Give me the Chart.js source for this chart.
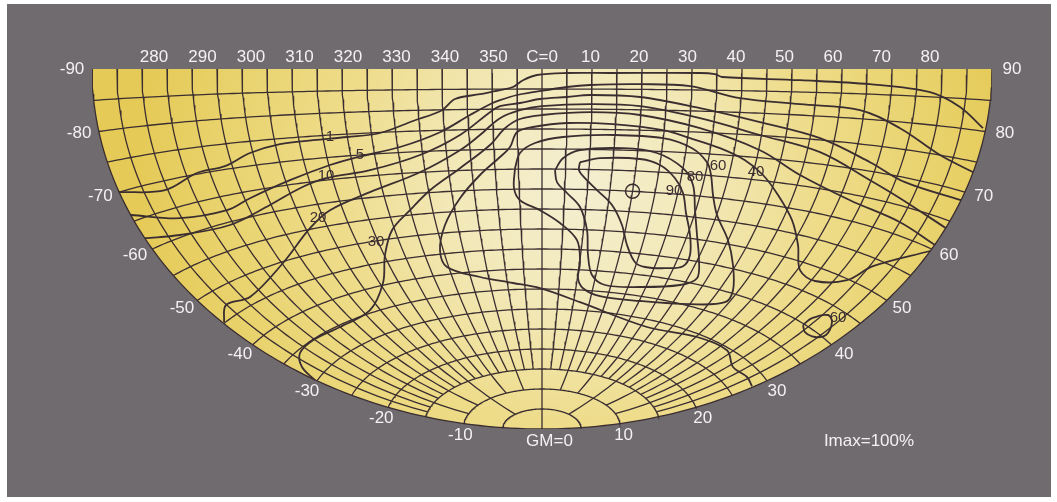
<!DOCTYPE html>
<html lang="en">
<head>
    <meta charset="UTF-8">
    <title>Isocandela diagram</title>
    <script src="https://cdn.jsdelivr.net/npm/chart.js"></script>
    <style>
        body { margin: 0; background: #ffffff; }
        .frame {
            position: absolute;
            left: 7px; top: 4px;
            width: 1044px; height: 493px;
            background: #6f6b6e;
        }
        #iso { position: absolute; left: 0; top: 0; }
    </style>
</head>
<body>
    <div class="frame"></div>
    <canvas id="iso" width="1057" height="502"></canvas>

    <script>
        // tick labels
        const cLabels = [280, 290, 300, 310, 320, 330, 340, 350, 0, 10, 20, 30, 40, 50, 60, 70, 80];
        const gammaLabels = [-90, -80, -70, -60, -50, -40, -30, -20, -10, 0, 10, 20, 30, 40, 50, 60, 70, 80, 90];

        // isolines in % of Imax, as [h, v] in diagram degrees
        // (h: left/right of C=0 along the horizon, v: down from the horizon at C=0)
        const iso1 = [[-84.6,30.8],[-75.4,30.3],[-69,26],[-63.4,24.3],[-58.4,21],[-52.4,18.8],[-45.8,17.8],[-39,17],[-32.4,16],
                      [-25.8,13],[-20,10.3],[-17.4,7.5],[-12.4,6.3],[-8.4,5.3],[-5.8,4.5],[-3.8,2.8],[-1,1.5],[5,1],[13.6,1],
                      [31.6,1],[34.6,1.3],[36,2],[51.6,2.8],[65.6,3.8],[77.6,5.8],[83.6,9.5],[88.2,14.8]];
        const iso5 = [[-82.2,36.5],[-72.4,37.3],[-63,35.3],[-58.4,32.3],[-50.4,27.8],[-42.4,24],[-36.8,22],[-28.4,19.5],
                      [-20.4,15.8],[-14.4,11.5],[-10.4,8.8],[-8.4,7.8],[-5,6.5],[-1.8,5.8],[5,4.5],[9.6,4],[19.6,3.8],
                      [29.6,4.3],[39.6,7.3],[51.6,8.8],[63.6,10.3],[71.6,14.8],[79.6,21.5],[86.2,25.8]];
        const iso10 = [[-79.4,42.3],[-72.4,41.5],[-62.4,39],[-54.4,34],[-48.4,29.8],[-43.2,27.3],[-34.4,25.3],[-24.4,21.5],
                       [-16.4,16.5],[-10.4,10.8],[-8.4,9.3],[-4.4,8.5],[-0.4,7.5],[5,7],[9.6,6.5],[19.6,7],[31.6,9.8],
                       [43.6,13.3],[55.6,17.3],[65.6,23.3],[72.6,28.3],[83.8,32.8]];
        const iso20 = [[-63.6,63.3],[-63.2,59],[-58.4,57],[-51.8,48.5],[-46.4,39.8],[-42.4,35.3],[-34.4,30.8],[-24.4,25.8],
                       [-16.4,20.3],[-12.4,16.5],[-8.4,12.3],[-4.4,10.3],[0,9.3],[9.6,8.8],[19.6,9.3],[31.6,12.3],
                       [43.6,16.5],[55.6,20.8],[65.6,27.8],[71.6,32.3],[80.8,39.8]];
        const iso30 = [[-45.4,77.8],[-48,74.5],[-48.4,71],[-45.8,67.8],[-40.4,64.5],[-34.4,60.3],[-31.8,53.5],[-31.4,46.5],
                       [-30,40.3],[-26.4,35.3],[-22.4,30.3],[-16.4,24.8],[-10.4,19],[-7.4,14.8],[-4.4,12.5],[0,11.5],
                       [9.6,10.8],[19.6,11.5],[31.6,14.8],[43.6,20.3],[51.6,26.5],[61.6,32.8],[71.6,38.3],[78.6,44]];
        const iso40 = [[77.6,45.5],[66.2,49.3],[61,52.8],[54.6,53],[51.6,50.3],[51.2,44],[50,37.8],[47.2,31.5],[44.2,26.5],
                       [40.6,22.8],[35.6,19.8],[29.6,17.3],[24.2,15.3],[14.2,13.8],[5,13.5],[-1.8,14.5],[-5,15.8],[-6.4,19.5],
                       [-8.4,22],[-12.4,26.5],[-16.4,32.3],[-19.4,39],[-20.4,45.3],[-19,49.5],[-12.4,52],[-5.8,53.5],
                       [-0.4,54.8],[7.6,58.3],[21,64.5],[31,67],[37,70.3],[38.2,74.5],[41,77],[42,79.3]];
        const iso60 = [[-5.4,24.8],[-4.4,21],[-1.4,18.5],[4.2,17],[14.2,16.5],[24.2,17.3],[30,19.8],[33,23.3],[33.8,26.5],
                       [34.2,31.5],[35,36.5],[37.2,42.8],[38.2,49],[38.2,55.3],[36.6,58.3],[29.6,58.8],[19.6,58],[11.6,56.8],
                       [8.2,54.8],[7.2,52.3],[7.6,48.3],[7,42.8],[3.6,38.5],[-0.4,35.3],[-4.4,32.8],[-5.6,29.8],[-5.4,24.8]];
        const iso60b = [[52.2,64],[54,62.3],[57.2,61.5],[58,63.3],[56.8,66.5],[54.6,67],[52.6,65.8],[52.2,64]];
        const iso80 = [[2.6,25.3],[4.2,22.3],[7.6,20.3],[16.2,19.8],[23,21],[28.2,24.8],[30.2,29],[30.6,35.3],[31,41.5],
                       [31.4,47.8],[31,52.3],[27.6,54],[19.6,54.5],[12.6,54],[10,51.5],[9.2,46.5],[9,40.3],[7.6,34.5],
                       [5,31],[3,28.3],[2.6,25.3]];
        const iso90 = [[7.6,23.3],[11.6,22.3],[19.6,22.5],[23.6,24],[26.6,27.3],[28.2,31],[28.8,36],[29.6,41.5],[29.6,46.5],
                       [28.2,49.3],[24.6,49.8],[20.6,49.5],[18.6,48.3],[17,44],[16,39],[14,34],[11,30.3],[8.6,27.3],
                       [7.4,25.3],[7.6,23.3]];
        const isolines = [iso1, iso5, iso10, iso20, iso30, iso40, iso60, iso60b, iso80, iso90];

        // value labels on the isolines: [text, h, v]
        const isoLabels = [['1',-42.4,17],['5',-36.4,21.5],['10',-43.2,26.8],['20',-44.8,37.2],['30',-33.2,43.3],
                           ['90',26.4,30.5],['80',30.6,27],['60',35.2,24.3],['40',42.8,25.8],['60',59.2,62.3]];

        // direction of the maximum intensity
        const imax = { c: 20, gamma: 60, text: 'Imax=100%' };

        const DEG = Math.PI / 180;
        const ink = '#3b2e31';

        // (C, gamma) -> diagram degrees, azimuthal equidistant around C=0 on the horizon
        function project(c, g) {
            const s = Math.sin(g * DEG);
            const rho = Math.acos(Math.min(1, s * Math.cos(c * DEG))) / DEG;
            const th = Math.atan2(s * Math.sin(c * DEG), Math.cos(g * DEG));
            return { x: rho * Math.sin(th), y: rho * Math.cos(th) };
        }

        function lineSet(points, width, order) {
            return {
                data: points, showLine: true, fill: false, order: order,
                borderColor: ink, borderWidth: width, pointRadius: 0, tension: 0
            };
        }

        // C lines stop earlier near the nadir so the centre stays readable
        function lowestGamma(c) {
            if (c === 0) return 0;
            if (c % 45 === 0) return 5;
            if (c % 15 === 0) return 10;
            return 15;
        }

        const datasets = [];

        // half-disk with the shaded background
        let shade = null;
        const rim = [];
        for (let a = -90; a <= 90; a++) rim.push({ x: 90 * Math.sin(a * DEG), y: 90 * Math.cos(a * DEG) });
        datasets.push({
            data: rim, showLine: true, order: 5, pointRadius: 0, borderColor: ink, borderWidth: 1.3,
            fill: { value: 0 },
            backgroundColor: (context) => {
                const chart = context.chart;
                if (!chart.chartArea) return '#efe096';
                if (!shade) {
                    const sx = chart.scales.x, sy = chart.scales.y;
                    const cx = sx.getPixelForValue(7), cy = sy.getPixelForValue(29);
                    const g = chart.ctx.createRadialGradient(cx, cy, 0, cx, cy, 440);
                    g.addColorStop(0, '#f5efd2');
                    g.addColorStop(0.3, '#f2e8b6');
                    g.addColorStop(0.55, '#eedc8a');
                    g.addColorStop(0.8, '#e9d36e');
                    g.addColorStop(1, '#e5ca57');
                    shade = g;
                }
                return shade;
            }
        });

        // C = const
        for (let c = -85; c <= 85; c += 5) {
            const pts = [];
            for (let g = 90; g >= lowestGamma(c); g -= 1) pts.push(project(c, g));
            datasets.push(lineSet(pts, 1.3, 4));
        }
        // gamma = const
        for (let g = 5; g <= 85; g += 5) {
            const pts = [];
            for (let c = -90; c <= 90; c += 1) pts.push(project(c, g));
            datasets.push(lineSet(pts, 1.3, 4));
        }
        // isolines
        isolines.forEach(iso => {
            const ds = lineSet(iso.map(p => ({ x: p[0], y: p[1] })), 1.8, 2);
            ds.tension = 0.35;
            datasets.push(ds);
        });
        // Imax marker
        datasets.push({
            data: [project(imax.c, imax.gamma)], order: 1,
            pointStyle: 'circle', pointRadius: 7, pointBorderWidth: 1.5,
            pointBorderColor: ink, pointBackgroundColor: 'rgba(0,0,0,0)'
        });

        const textPlugin = {
            id: 'isoText',
            afterDatasetsDraw(chart) {
                const { ctx, scales: { x, y } } = chart;
                ctx.save();
                ctx.textAlign = 'center';
                ctx.textBaseline = 'middle';
                ctx.fillStyle = '#f3f1f3';
                ctx.font = '17px "Liberation Sans", Arial, sans-serif';

                // C values along the horizon (labels sit a little inside the grid positions)
                cLabels.forEach(c => {
                    const h = (c > 180 ? c - 360 : c) * 0.97;
                    ctx.fillText(c === 0 ? 'C=0' : String(c), x.getPixelForValue(h), y.getPixelForValue(-3));
                });
                // gamma values around the rim
                gammaLabels.forEach(g => {
                    const a = Math.abs(g) * DEG;
                    const h = Math.sign(g) * 94 * Math.sin(a);
                    const v = 93 * Math.cos(a);
                    const t = g === 0 ? 'GM=0' : String(g);
                    ctx.fillText(t, x.getPixelForValue(g === 0 ? 1.5 : h), y.getPixelForValue(v));
                });
                ctx.fillText(imax.text, x.getPixelForValue(65.4), y.getPixelForValue(93));

                // isoline values
                ctx.fillStyle = ink;
                ctx.font = '15px "Liberation Sans", Arial, sans-serif';
                isoLabels.forEach(l => ctx.fillText(l[0], x.getPixelForValue(l[1]), y.getPixelForValue(l[2])));
                ctx.restore();
            }
        };

        new Chart(document.getElementById('iso').getContext('2d'), {
            type: 'scatter',
            data: { datasets: datasets },
            options: {
                responsive: false,
                animation: false,
                layout: { padding: { left: 92, top: 69, right: 65, bottom: 73 } },
                plugins: { legend: { display: false }, tooltip: { enabled: false } },
                scales: {
                    x: { type: 'linear', min: -90, max: 90, display: false },
                    y: { type: 'linear', min: 0, max: 90, reverse: true, display: false }
                }
            },
            plugins: [textPlugin]
        });
    </script>
</body>
</html>
